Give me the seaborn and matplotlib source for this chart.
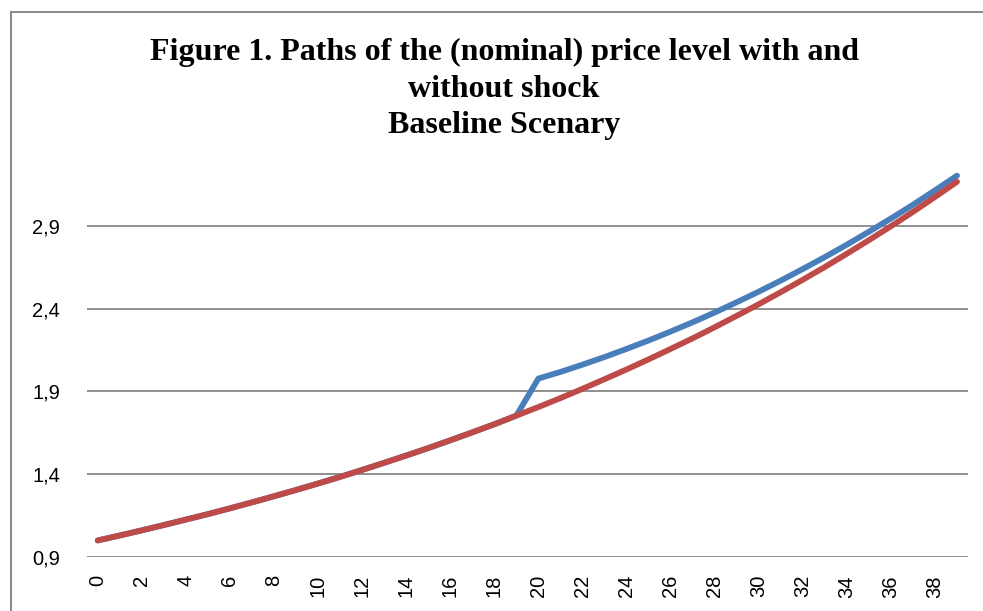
import pandas as pd
import matplotlib
matplotlib.use('Agg')
import matplotlib.pyplot as plt
from matplotlib.lines import Line2D
from matplotlib.ticker import FixedLocator, FuncFormatter
import seaborn as sns

# Periods and the two price-level paths
periods = list(range(40))

without_shock = [
    1.000, 1.030, 1.061, 1.093, 1.126, 1.159, 1.194, 1.230, 1.267, 1.305,
    1.344, 1.384, 1.426, 1.469, 1.513, 1.558, 1.605, 1.653, 1.702, 1.754,
    1.806, 1.860, 1.916, 1.974, 2.033, 2.094, 2.157, 2.221, 2.288, 2.357,
    2.427, 2.500, 2.575, 2.652, 2.732, 2.814, 2.898, 2.985, 3.075, 3.167,
]

with_shock = [
    1.000, 1.030, 1.061, 1.093, 1.126, 1.159, 1.194, 1.230, 1.267, 1.305,
    1.344, 1.384, 1.426, 1.469, 1.513, 1.558, 1.605, 1.653, 1.702, 1.754,
    1.978, 2.018, 2.062, 2.108, 2.157, 2.208, 2.262, 2.318, 2.377, 2.439,
    2.503, 2.570, 2.640, 2.712, 2.787, 2.865, 2.945, 3.028, 3.115, 3.204,
]

y_ticks = [0.9, 1.4, 1.9, 2.4, 2.9]
x_ticks = list(range(0, 40, 2))

title = ("Figure 1. Paths of the (nominal) price level with and\n"
         "without shock\n"
         "Baseline Scenary")

# Long-form table for seaborn
df = pd.concat([
    pd.DataFrame({'period': periods, 'price': with_shock, 'path': 'With shock'}),
    pd.DataFrame({'period': periods, 'price': without_shock, 'path': 'Without shock'}),
])

sns.set_style('white')
plt.rcParams['font.family'] = ['Liberation Sans', 'DejaVu Sans']

fig = plt.figure(figsize=(9.83, 6.11), dpi=100)
ax = fig.add_axes([86.7 / 983, 1 - 557 / 611, (968 - 86.7) / 983, (557 - 173) / 611])

sns.lineplot(data=df, x='period', y='price', hue='path',
             palette={'With shock': '#4a7ebb', 'Without shock': '#be4b48'},
             linewidth=4.2, legend=False, ax=ax)
for ln in ax.get_lines():
    ln.set_solid_capstyle('round')
    ln.set_clip_on(False)

ax.set_xlim(-0.5, 39.5)
ax.set_ylim(0.9, 3.22)
ax.yaxis.set_major_locator(FixedLocator(y_ticks))
ax.yaxis.set_major_formatter(FuncFormatter(lambda v, p: f'{v:.1f}'.replace('.', ',')))
ax.set_xticks(x_ticks)
ax.set_xticklabels([str(t) for t in x_ticks], rotation=90)

# Horizontal gridlines at the y ticks
for t in y_ticks:
    ax.axhline(t, color='#878787', linewidth=1.3, zorder=0)

for s in ax.spines.values():
    s.set_visible(False)

ax.tick_params(axis='y', length=0, pad=19, labelsize=14.5, colors='black')
ax.tick_params(axis='x', length=0, pad=13, labelsize=14.5, colors='black')
ax.set_xlabel('')
ax.set_ylabel('')

fig.text(504 / 983, 1 - 89 / 611, title, ha='center', va='center', color='black',
         fontsize=23, fontweight='bold', family=['Liberation Serif', 'DejaVu Serif'],
         linespacing=1.36)

# Outer chart-area border (left and top edges visible)
fig.add_artist(Line2D([10.5 / 983, 10.5 / 983], [0, 1 - 12 / 611], color='#8c8c8c', linewidth=1.5))
fig.add_artist(Line2D([10.5 / 983, 1], [1 - 12 / 611, 1 - 12 / 611], color='#8c8c8c', linewidth=1.5))

fig.savefig('out.png', dpi=100)
